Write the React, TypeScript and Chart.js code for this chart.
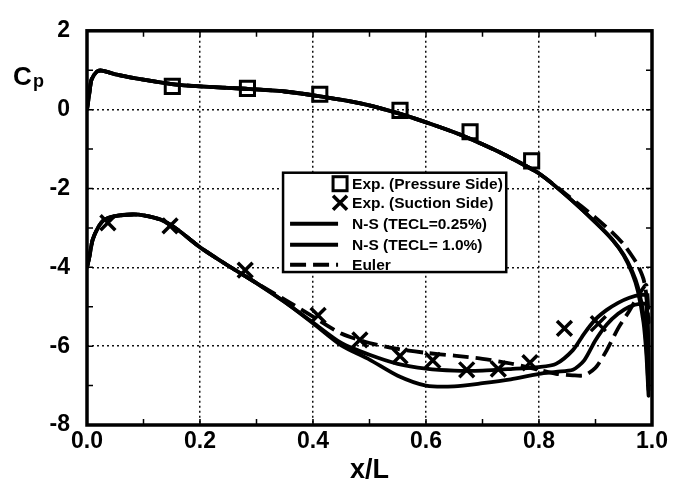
import React, { useEffect, useRef } from 'react';
import { Chart, registerables } from 'chart.js';

Chart.register(...registerables);

const FONT_FAMILY = '"Liberation Sans", Arial, Helvetica, sans-serif';

// ---- axis ranges / ticks ----
const X_MIN = 0;
const X_MAX = 1;
const X_STEP = 0.2;
const Y_MIN = -8;
const Y_MAX = 2;
const Y_STEP = 2;

// ---- experimental data ----
const EXP_PS_X = [0.151, 0.284, 0.412, 0.554, 0.678, 0.787];
const EXP_PS_CP = [0.59, 0.54, 0.39, -0.02, -0.56, -1.3];
const EXP_SS_X = [0.037, 0.147, 0.28, 0.409, 0.483, 0.554, 0.612, 0.672, 0.728, 0.784, 0.845, 0.905];
const EXP_SS_CP = [-2.87, -2.95, -4.07, -5.22, -5.84, -6.25, -6.36, -6.6, -6.58, -6.42, -5.55, -5.43];

// ---- computed curves: pressure side stations ----
const PS_X = [0, 0.004, 0.008, 0.017, 0.026, 0.055, 0.1, 0.15, 0.2, 0.28, 0.35, 0.41, 0.49, 0.55, 0.61, 0.66, 0.7, 0.74, 0.8, 0.85, 0.9, 0.93, 0.95, 0.965, 0.975, 0.985, 0.99, 0.994];
const NS025_PS = [0.0, 0.4, 0.76, 0.96, 0.99, 0.88, 0.76, 0.65, 0.59, 0.53, 0.46, 0.34, 0.14, -0.09, -0.37, -0.63, -0.88, -1.15, -1.62, -2.2, -2.86, -3.3, -3.7, -4.15, -4.6, -5.4, -6.2, -7.25];
const NS100_PS = [0.0, 0.4, 0.76, 0.96, 0.99, 0.88, 0.76, 0.65, 0.59, 0.53, 0.46, 0.34, 0.14, -0.09, -0.37, -0.63, -0.88, -1.15, -1.62, -2.2, -2.86, -3.3, -3.68, -4.1, -4.5, -5.2, -6.0, -7.1];
const EULER_PS = [0.0, 0.4, 0.76, 0.96, 0.99, 0.88, 0.76, 0.65, 0.59, 0.53, 0.46, 0.34, 0.14, -0.09, -0.37, -0.63, -0.88, -1.15, -1.62, -2.17, -2.74, -3.12, -3.42, -3.72, -3.95, -4.3, -4.7, -5.4];

// ---- computed curves: suction side stations ----
const SS_X = [0, 0.004, 0.01, 0.02, 0.03, 0.05, 0.08, 0.1, 0.13, 0.16, 0.2, 0.25, 0.3, 0.35, 0.4, 0.45, 0.5, 0.55, 0.6, 0.65, 0.7, 0.75, 0.8, 0.83, 0.86, 0.88, 0.9, 0.92, 0.94, 0.96, 0.98, 0.99];
const NS025_SS = [-4.0, -3.75, -3.3, -2.98, -2.8, -2.7, -2.66, -2.68, -2.79, -3.04, -3.49, -3.96, -4.4, -4.88, -5.42, -5.98, -6.34, -6.75, -7.0, -7.02, -6.94, -6.84, -6.7, -6.65, -6.6, -6.36, -5.85, -5.45, -5.18, -5.0, -4.92, -4.95];
const NS100_SS = [-4.0, -3.75, -3.3, -2.98, -2.8, -2.7, -2.66, -2.68, -2.79, -3.04, -3.49, -3.96, -4.4, -4.88, -5.4, -5.92, -6.22, -6.45, -6.57, -6.62, -6.62, -6.58, -6.53, -6.45, -6.1, -5.68, -5.32, -5.08, -4.9, -4.77, -4.7, -4.72];
const EULER_SS = [-4.0, -3.75, -3.3, -2.98, -2.8, -2.7, -2.66, -2.68, -2.79, -3.04, -3.49, -3.96, -4.4, -4.82, -5.25, -5.68, -5.92, -6.07, -6.17, -6.24, -6.32, -6.44, -6.6, -6.7, -6.74, -6.74, -6.55, -6.1, -5.55, -5.1, -4.62, -4.45];

// ---- text ----
const LEGEND_LABELS = ['Exp. (Pressure Side)', 'Exp. (Suction Side)', 'N-S (TECL=0.25%)', 'N-S (TECL= 1.0%)', 'Euler'];
const X_TITLE = 'x/L';
const Y_TITLE_MAIN = 'C';
const Y_TITLE_SUB = 'p';

function toPoints(xs: number[], ys: number[]) {
  return xs.map((x, i) => ({ x, y: ys[i] }));
}
function closedCurve(ssX: number[], ss: number[], psX: number[], ps: number[]) {
  return toPoints(ssX, ss).concat(toPoints(psX, ps).reverse());
}

const framePlugin = {
  id: 'frameAndLabels',
  afterDatasetsDraw(chart: any) {
    const { ctx, scales } = chart;
    const xs = scales.x;
    const ys = scales.y;
    // legend box
    const left = xs.getPixelForValue(0.347);
    const right = xs.getPixelForValue(0.742);
    const top = ys.getPixelForValue(-1.6);
    const bottom = ys.getPixelForValue(-4.12);
    ctx.save();
    ctx.fillStyle = '#fff';
    ctx.fillRect(left, top, right - left, bottom - top);
    ctx.strokeStyle = '#000';
    ctx.lineWidth = 2.5;
    ctx.strokeRect(left, top, right - left, bottom - top);
    const rows = [11, 30, 51, 72, 92].map((d) => top + d);
    const symX = left + 57;
    // square
    ctx.lineWidth = 3;
    ctx.strokeRect(symX - 7, rows[0] - 7, 14, 14);
    // cross
    ctx.lineWidth = 3.5;
    ctx.beginPath();
    ctx.moveTo(symX - 7, rows[1] - 7);
    ctx.lineTo(symX + 7, rows[1] + 7);
    ctx.moveTo(symX + 7, rows[1] - 7);
    ctx.lineTo(symX - 7, rows[1] + 7);
    ctx.stroke();
    // lines
    const lx0 = left + 7;
    const lx1 = left + 55;
    [2, 3, 4].forEach((r) => {
      ctx.beginPath();
      ctx.lineWidth = 4;
      ctx.setLineDash(r === 4 ? [16, 7] : []);
      ctx.moveTo(lx0, rows[r]);
      ctx.lineTo(lx1, rows[r]);
      ctx.stroke();
    });
    ctx.setLineDash([]);
    ctx.fillStyle = '#000';
    ctx.font = `bold 15.5px ${FONT_FAMILY}`;
    ctx.textBaseline = 'middle';
    ctx.textAlign = 'left';
    LEGEND_LABELS.forEach((t, i) => ctx.fillText(t, left + 69, rows[i] + 1));
    ctx.restore();
  },
  afterDraw(chart: any) {
    const { ctx, chartArea: ca, scales } = chart;
    const xs = scales.x;
    const ys = scales.y;
    ctx.save();
    ctx.strokeStyle = '#000';
    // minor inward ticks
    ctx.lineWidth = 1.5;
    ctx.beginPath();
    for (let i = 1; i < 10; i++) {
      const px = xs.getPixelForValue(i / 10);
      ctx.moveTo(px, ca.bottom);
      ctx.lineTo(px, ca.bottom - 6);
      ctx.moveTo(px, ca.top);
      ctx.lineTo(px, ca.top + 6);
    }
    for (let v = -7; v <= 1; v++) {
      const py = ys.getPixelForValue(v);
      ctx.moveTo(ca.left, py);
      ctx.lineTo(ca.left + 6, py);
      ctx.moveTo(ca.right, py);
      ctx.lineTo(ca.right - 6, py);
    }
    ctx.stroke();
    // frame
    ctx.lineWidth = 3.5;
    ctx.strokeRect(ca.left, ca.top, ca.right - ca.left, ca.bottom - ca.top);
    // C_p label
    ctx.fillStyle = '#000';
    ctx.textBaseline = 'alphabetic';
    ctx.textAlign = 'left';
    ctx.font = `bold 26px ${FONT_FAMILY}`;
    ctx.fillText(Y_TITLE_MAIN, 13, 85);
    ctx.font = `bold 18px ${FONT_FAMILY}`;
    ctx.fillText(Y_TITLE_SUB, 33, 87);
    ctx.restore();
  },
};

export default function App() {
  const canvasRef = useRef<HTMLCanvasElement | null>(null);

  useEffect(() => {
    const canvas = canvasRef.current;
    if (!canvas) return;
    const lineBase = {
      type: 'line' as const,
      borderColor: '#000',
      backgroundColor: '#000',
      borderWidth: 3.8,
      pointRadius: 0,
      fill: false,
      tension: 0.25,
    };
    const chart = new Chart(canvas, {
      type: 'line',
      data: {
        datasets: [
          {
            label: LEGEND_LABELS[0],
            data: toPoints(EXP_PS_X, EXP_PS_CP),
            showLine: false,
            pointStyle: 'rect',
            pointRadius: 10,
            pointBorderWidth: 3,
            pointBorderColor: '#000',
            pointBackgroundColor: 'rgba(0,0,0,0)',
            borderColor: '#000',
          },
          {
            label: LEGEND_LABELS[1],
            data: toPoints(EXP_SS_X, EXP_SS_CP),
            showLine: false,
            pointStyle: 'crossRot',
            pointRadius: 10.5,
            pointBorderWidth: 3.5,
            pointBorderColor: '#000',
            borderColor: '#000',
          },
          { ...lineBase, label: LEGEND_LABELS[2], data: closedCurve(SS_X, NS025_SS, PS_X, NS025_PS) },
          { ...lineBase, label: LEGEND_LABELS[3], data: closedCurve(SS_X, NS100_SS, PS_X, NS100_PS) },
          { ...lineBase, label: LEGEND_LABELS[4], data: closedCurve(SS_X, EULER_SS, PS_X, EULER_PS), borderDash: [16, 7] },
        ],
      },
      options: {
        animation: false,
        responsive: true,
        maintainAspectRatio: false,
        events: [],
        layout: { padding: { left: 0, top: 20, right: 21, bottom: 0 } },
        plugins: { legend: { display: false }, tooltip: { enabled: false } },
        scales: {
          x: {
            type: 'linear',
            min: X_MIN,
            max: X_MAX,
            ticks: {
              stepSize: X_STEP,
              color: '#000',
              padding: 3,
              font: { family: FONT_FAMILY, size: 23, weight: 'bold' },
              callback: (v: any) => Number(v).toFixed(1),
              maxRotation: 0,
            },
            grid: { color: '#111', lineWidth: 1.5, drawTicks: false },
            border: { display: false, dash: [2, 3] },
            title: {
              display: true,
              text: X_TITLE,
              color: '#000',
              font: { family: FONT_FAMILY, size: 27, weight: 'bold' },
              padding: { top: 0, bottom: 4 },
            },
            afterFit: (scale: any) => {
              scale.height = 66;
            },
          },
          y: {
            type: 'linear',
            min: Y_MIN,
            max: Y_MAX,
            ticks: {
              stepSize: Y_STEP,
              color: '#000',
              padding: 17,
              font: { family: FONT_FAMILY, size: 23, weight: 'bold' },
              callback: (v: any) => String(v),
            },
            grid: { color: '#111', lineWidth: 1.5, drawTicks: false },
            border: { display: false, dash: [2, 3] },
            afterFit: (scale: any) => {
              scale.width = 87;
            },
          },
        },
      },
      plugins: [framePlugin],
    });
    return () => chart.destroy();
  }, []);

  return (
    <div style={{ position: 'fixed', left: 0, top: 0, width: 673, height: 491, background: '#fff' }}>
      <canvas ref={canvasRef} />
    </div>
  );
}
